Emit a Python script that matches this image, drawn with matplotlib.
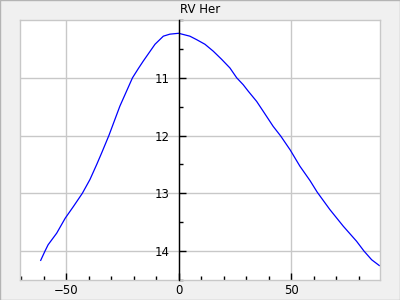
import matplotlib
matplotlib.use("Agg")
import matplotlib.pyplot as plt
from matplotlib.ticker import MultipleLocator

# light curve of RV Her
phase = [-61.3, -59.4, -58.0, -54.2, -50.4, -46.8, -42.8, -39.4, -36.4, -34.2,
         -31.0, -26.1, -20.5, -17.9, -15.7, -10.5, -6.8, -3.9, 0.0, 5.0,
         8.0, 11.7, 15.4, 19.1, 22.8, 25.8, 28.7, 30.9, 34.7, 37.6,
         42.0, 45.4, 49.6, 53.9, 58.4, 61.6, 67.2, 73.2, 79.1, 82.4,
         85.8, 89.2]
mag = [14.16, 14.00, 13.89, 13.69, 13.43, 13.23, 13.00, 12.76, 12.50, 12.30,
       12.00, 11.49, 11.00, 10.84, 10.71, 10.42, 10.28, 10.245, 10.23, 10.28,
       10.34, 10.42, 10.54, 10.68, 10.83, 11.00, 11.12, 11.23, 11.41, 11.58,
       11.84, 12.01, 12.25, 12.53, 12.78, 12.98, 13.28, 13.57, 13.83, 14.00,
       14.15, 14.25]

title = "RV Her"
grid_col = "#c8c8c8"

fig = plt.figure(figsize=(4, 3), dpi=100, facecolor="#f0f0f0")
fig.patches.append(plt.Rectangle((0, 0), 1, 1, transform=fig.transFigure,
                                 fill=False, edgecolor="#b4b4b4", linewidth=1))
ax = fig.add_axes([0.05, 20 / 300, 0.9, 260 / 300])

ax.plot(phase, mag, color="blue", linewidth=0.9)

ax.set_xlim(-70.5, 89.5)
ax.set_ylim(14.5, 10.0)

ax.xaxis.set_major_locator(MultipleLocator(50))
ax.xaxis.set_minor_locator(MultipleLocator(10))
ax.yaxis.set_major_locator(MultipleLocator(1))
ax.yaxis.set_minor_locator(MultipleLocator(0.5))
ax.set_yticks([11, 12, 13, 14])

ax.grid(True, which="major", color=grid_col, linewidth=1)
ax.set_axisbelow(True)

for side in ["top", "right", "bottom"]:
    ax.spines[side].set_color(grid_col)
    ax.spines[side].set_linewidth(1)
ax.spines["left"].set_position(("data", 0))
ax.spines["left"].set_color("black")
ax.spines["left"].set_linewidth(1)
ax.spines["left"].set_zorder(3)
# left frame edge, since the left spine sits on zero
ax.plot([0, 0], [0, 1], transform=ax.transAxes, color=grid_col,
        linewidth=1, clip_on=False)

ax.tick_params(axis="x", which="both", direction="in", color="black",
               labelsize=8.5, pad=3)
ax.tick_params(axis="y", which="both", direction="in", color="black",
               labelsize=8.5, pad=6.5)
ax.tick_params(which="major", length=5, width=1)
ax.tick_params(which="minor", length=3, width=1)

ax.set_title(title, fontsize=8.5, pad=5)

fig.savefig("out.png", dpi=100, facecolor=fig.get_facecolor())
